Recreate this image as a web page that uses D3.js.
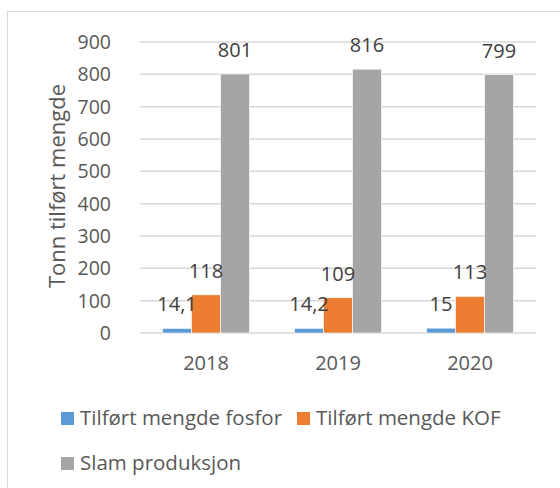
<!DOCTYPE html>
<html lang="no">
<head>
<meta charset="utf-8">
<title>Tonn tilført mengde</title>
<script src="https://cdn.jsdelivr.net/npm/d3@7"></script>
<style>
  body { margin: 0; background: #fff; }
  text { font-family: "Open Sans", sans-serif; fill: #595959; }
</style>
</head>
<body>
<div id="chart"></div>
<script>
var years = ["2018", "2019", "2020"];
var seriesNames = ["Tilført mengde fosfor", "Tilført mengde KOF", "Slam produksjon"];
var fosfor = [14.1, 14.2, 15];
var kof = [118, 109, 113];
var slam = [801, 816, 799];
var yTicks = [0, 100, 200, 300, 400, 500, 600, 700, 800, 900];
var colors = ["#5b9bd5", "#ed7d31", "#a5a5a5"];

var width = 560, height = 488;
var margin = {top: 42, left: 140, right: 24, bottom: 155};

var svg = d3.select("#chart").append("svg")
    .attr("width", width)
    .attr("height", height);

// chart area frame (runs off right and bottom)
svg.append("rect")
    .attr("x", 7.5).attr("y", 11.5)
    .attr("width", 600).attr("height", 600)
    .attr("fill", "none")
    .attr("stroke", "#d9d9d9");

var x0 = d3.scaleBand()
    .domain(years)
    .range([margin.left, width - margin.right]);

var y = d3.scaleLinear()
    .domain([0, 900])
    .range([333, margin.top]);

var series = [fosfor, kof, slam];
var barW = 29;
var x1 = d3.scaleBand()
    .domain([0, 1, 2])
    .range([-barW * 1.5, barW * 1.5]);

var fmt = d3.formatLocale({decimal: ",", thousands: " ", grouping: [3], currency: ["", " kr"]}).format("~g");

// gridlines
svg.append("g")
  .selectAll("line")
  .data(yTicks)
  .join("line")
    .attr("x1", x0.range()[0]).attr("x2", x0.range()[1])
    .attr("y1", d => y(d)).attr("y2", d => y(d))
    .attr("stroke", "#d9d9d9")
    .attr("stroke-width", 1.5);

// y tick labels
svg.append("g")
  .selectAll("text")
  .data(yTicks)
  .join("text")
    .attr("x", 111)
    .attr("y", d => y(d) + 7)
    .attr("text-anchor", "end")
    .style("font-size", "19.5px")
    .text(d => d);

// bars
var groups = svg.append("g")
  .selectAll("g")
  .data(years)
  .join("g")
    .attr("transform", d => "translate(" + (x0(d) + x0.bandwidth() / 2) + ",0)");

groups.selectAll("rect")
  .data((d, i) => series.map((s, k) => ({k: k, v: s[i]})))
  .join("rect")
    .attr("x", d => x1(d.k))
    .attr("width", x1.bandwidth())
    .attr("y", d => y(d.v))
    .attr("height", d => y(0) - y(d.v))
    .attr("fill", d => colors[d.k])
    .attr("stroke", "#fff")
    .attr("stroke-width", 0.6);

groups.selectAll("text")
  .data((d, i) => series.map((s, k) => ({k: k, v: s[i]})))
  .join("text")
    .attr("x", d => x1(d.k) + x1.bandwidth() / 2)
    .attr("y", d => y(d.v) - 17)
    .attr("text-anchor", "middle")
    .style("font-size", "20px")
    .style("fill", "#404040")
    .text(d => fmt(d.v));

// x labels
svg.append("g")
  .selectAll("text")
  .data(years)
  .join("text")
    .attr("x", d => x0(d) + x0.bandwidth() / 2)
    .attr("y", 370)
    .attr("text-anchor", "middle")
    .style("font-size", "20px")
    .text(d => d);

// y title
svg.append("text")
    .attr("transform", "translate(65,186) rotate(-90)")
    .attr("text-anchor", "middle")
    .style("font-size", "22px")
    .text("Tonn tilført mengde");

// legend
var legendPos = [[61, 425], [297, 425], [61, 470]];
var legend = svg.append("g")
  .selectAll("g")
  .data(seriesNames)
  .join("g")
    .attr("transform", (d, i) => "translate(" + legendPos[i][0] + "," + legendPos[i][1] + ")");

legend.append("rect")
    .attr("x", 0).attr("y", -13)
    .attr("width", 13).attr("height", 13)
    .attr("fill", (d, i) => colors[i]);

legend.append("text")
    .attr("x", 19)
    .attr("y", 0)
    .style("font-size", "20.5px")
    .text(d => d);
</script>
</body>
</html>
